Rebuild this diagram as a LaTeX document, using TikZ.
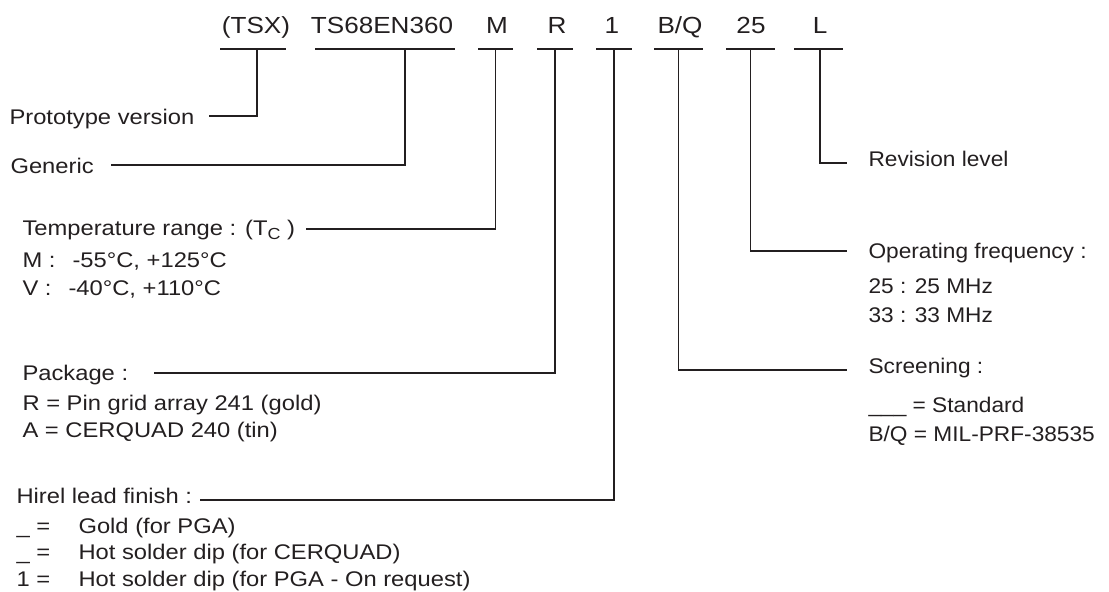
\documentclass[tikz,border=0pt]{standalone}
\usepackage{fontspec}
\setmainfont{Liberation Sans}[FakeStretch=1.12]
\newfontfamily\rightfont{Liberation Sans}[FakeStretch=1.07]
\definecolor{ink}{RGB}{35,31,32}
\begin{document}
\begin{tikzpicture}[x=1pt,y=-1pt,line width=1.1pt,draw=ink,
  code/.style={anchor=base,inner sep=0pt,text=ink,font=\fontsize{23.3}{28}\selectfont},
  lab/.style={anchor=base west,inner sep=0pt,text=ink,font=\fontsize{21.2}{26}\selectfont},
  rlab/.style={anchor=base west,inner sep=0pt,text=ink,font=\rightfont\fontsize{21.2}{26}\selectfont},
  uline/.style={inner sep=0pt,minimum height=0pt,minimum width=#1,outer sep=0pt}]
\useasboundingbox (0,0) rectangle (1109,592);

% codes
\node[code] (c1) at (256,33) {(TSX)};
\node[code] (c2) at (382,33) {TS68EN360};
\node[code] (c3) at (497,33) {M};
\node[code] (c4) at (557,33) {R};
\node[code] (c5) at (612,33) {1};
\node[code] (c6) at (680,33) {B/Q};
\node[code] (c7) at (751,33) {25};
\node[code] (c8) at (820,33) {L};

% underlines
\node[uline=66pt] (u1) at (253,49) {};
\node[uline=140pt] (u2) at (385,49) {};
\node[uline=35pt] (u3) at (495.5,49) {};
\node[uline=36pt] (u4) at (555,49) {};
\node[uline=36pt] (u5) at (614,49) {};
\node[uline=49pt] (u6) at (678.5,49) {};
\node[uline=49pt] (u7) at (750.5,49) {};
\node[uline=49pt] (u8) at (818.5,49) {};
\foreach \u in {u1,u2,u3,u4,u5,u6,u7,u8} \draw (\u.west) -- (\u.east);

% left labels
\node[lab] (l1) at (9,124) {Prototype version};
\node[lab] (l2) at (10,173) {Generic};
\node[lab] (l3) at (22,235) {Temperature range : (T\raisebox{-4pt}{\fontsize{16}{16}\selectfont C} )};
\node[lab] (l3a) at (22,267) {\makebox[50pt][l]{M :}-55°C, +125°C};
\node[lab] (l3b) at (22,295) {\makebox[46pt][l]{V :}-40°C, +110°C};
\node[lab] (l4) at (22,380) {Package :};
\node[lab] (l4a) at (22,410) {R = Pin grid array 241 (gold)};
\node[lab] (l4b) at (22,437) {A = CERQUAD 240 (tin)};
\node[lab] (l5) at (16,503) {Hirel lead finish :};
\node[lab] (l5a) at (16,533) {\makebox[62pt][l]{\_ =}Gold (for PGA)};
\node[lab] (l5b) at (16,559) {\makebox[62pt][l]{\_ =}Hot solder dip (for CERQUAD)};
\node[lab] (l5c) at (16,586) {\makebox[62pt][l]{1 =}Hot solder dip (for PGA - On request)};

% right labels
\node[rlab] (r1) at (868,166) {Revision level};
\node[rlab] (r2) at (868,258) {Operating frequency :};
\node[rlab] (r2a) at (868,293) {25 : 25 MHz};
\node[rlab] (r2b) at (868,322) {33 : 33 MHz};
\node[rlab] (r3) at (868,373) {Screening :};
\node[rlab] (r3a) at (868,412) {\_\_\_ = Standard};
\node[rlab] (r3b) at (868,441) {B/Q = MIL-PRF-38535};

% connectors
\draw ([xshift=4pt]u1.center) |- ([xshift=14pt,yshift=8pt]l1.base east);
\draw ([xshift=20pt]u2.center) |- ([xshift=17pt,yshift=8pt]l2.base east);
\draw (u3.center) |- ([xshift=10pt,yshift=6pt]l3.base east);
\draw (u4.center) |- ([xshift=25pt,yshift=7pt]l4.base east);
\draw (u5.center) |- ([xshift=7pt,yshift=3pt]l5.base east);
\draw (u6.center) |- ([xshift=-21pt,yshift=3pt]r3.base west);
\draw (u7.center) |- ([xshift=-21pt,yshift=7pt]r2.base west);
\draw ([xshift=1.5pt]u8.center) |- ([xshift=-21pt,yshift=3pt]r1.base west);
\end{tikzpicture}
\end{document}
